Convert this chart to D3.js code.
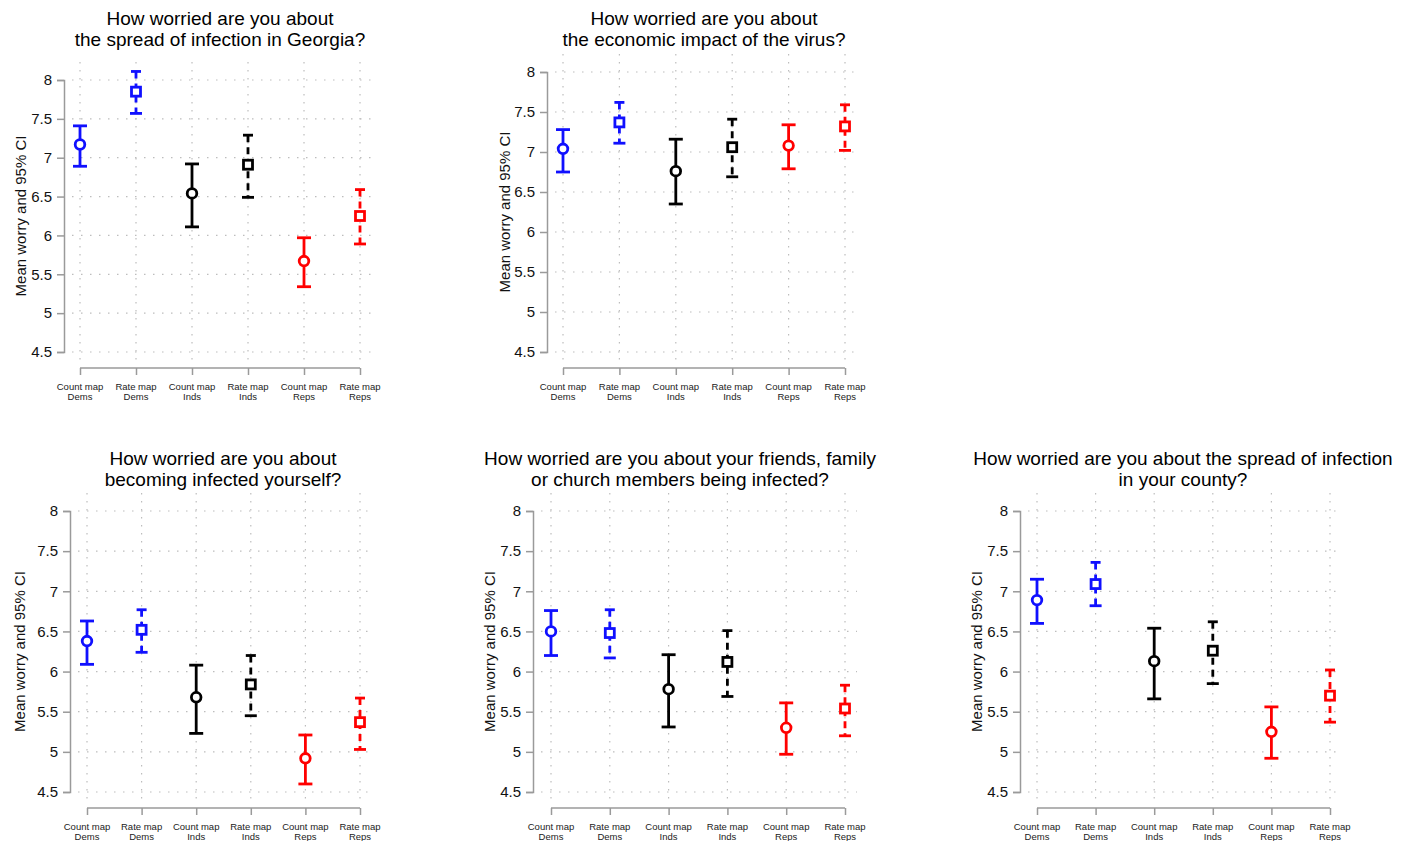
<!DOCTYPE html>
<html>
<head>
<meta charset="utf-8">
<title>Worry by map type and party</title>
<style>
  body { margin: 0; background: #fff; }
  text { font-family: "Liberation Sans", Arial, sans-serif; }
</style>
</head>
<body>
<svg id="container" width="1410" height="841"></svg>
<script src="https://cdn.jsdelivr.net/npm/d3@7"></script>
<script>
// categories (map type + party) and styling keys
const mapTypes = ["Count map", "Rate map", "Count map", "Rate map", "Count map", "Rate map"]
const parties = ["Dems", "Dems", "Inds", "Inds", "Reps", "Reps"]
const yTicks = [4.5, 5, 5.5, 6, 6.5, 7, 7.5, 8]

const titles = [
  ["How worried are you about", "the spread of infection in Georgia?"],
  ["How worried are you about", "the economic impact of the virus?"],
  ["How worried are you about", "becoming infected yourself?"],
  ["How worried are you about your friends, family", "or church members being infected?"],
  ["How worried are you about the spread of infection", "in your county?"]
]

// means and 95% CI bounds
const meanGeorgia = [7.17, 7.85, 6.54, 6.91, 5.67, 6.25]
const lowGeorgia  = [6.89, 7.57, 6.11, 6.49, 5.34, 5.89]
const highGeorgia = [7.41, 8.11, 6.92, 7.29, 5.97, 6.59]

const meanEconomy = [7.04, 7.37, 6.76, 7.06, 7.08, 7.32]
const lowEconomy  = [6.75, 7.11, 6.35, 6.69, 6.79, 7.02]
const highEconomy = [7.28, 7.62, 7.16, 7.41, 7.34, 7.59]

const meanSelf = [6.38, 6.52, 5.68, 5.84, 4.92, 5.37]
const lowSelf  = [6.09, 6.24, 5.23, 5.45, 4.60, 5.03]
const highSelf = [6.63, 6.77, 6.08, 6.20, 5.21, 5.67]

const meanFriends = [6.50, 6.48, 5.78, 6.12, 5.30, 5.54]
const lowFriends  = [6.20, 6.17, 5.31, 5.69, 4.97, 5.20]
const highFriends = [6.76, 6.77, 6.21, 6.51, 5.61, 5.83]

const meanCounty = [6.89, 7.09, 6.13, 6.26, 5.25, 5.70]
const lowCounty  = [6.60, 6.82, 5.66, 5.85, 4.92, 5.37]
const highCounty = [7.15, 7.36, 6.54, 6.62, 5.56, 6.02]

const panelData = [
  [meanGeorgia, lowGeorgia, highGeorgia],
  [meanEconomy, lowEconomy, highEconomy],
  [meanSelf, lowSelf, highSelf],
  [meanFriends, lowFriends, highFriends],
  [meanCounty, lowCounty, highCounty]
]

// where each panel sits on the page
const layout = [
  {axisX: 64,   yTop: 80,  yBottom: 352, xFirst: 80,   xLast: 360,  xAxisY: 368, titleX: 220,  titleY: 25,  labelX: 21},
  {axisX: 547,  yTop: 72,  yBottom: 352, xFirst: 563,  xLast: 845,  xAxisY: 368, titleX: 704,  titleY: 25,  labelX: 505},
  {axisX: 70,   yTop: 511, yBottom: 792, xFirst: 87,   xLast: 360,  xAxisY: 808, titleX: 223,  titleY: 465, labelX: 20},
  {axisX: 533,  yTop: 511, yBottom: 792, xFirst: 551,  xLast: 845,  xAxisY: 808, titleX: 680,  titleY: 465, labelX: 490},
  {axisX: 1020, yTop: 511, yBottom: 792, xFirst: 1037, xLast: 1330, xAxisY: 808, titleX: 1183, titleY: 465, labelX: 977}
]

const partyColor = d3.scaleOrdinal().domain(["Dems", "Inds", "Reps"]).range(["#1010ff", "#000000", "#ff0000"])
const axisColor = "#9a9a9a"
const gridColor = "#bdbdbd"

let container = d3.select("#container")

layout.forEach((L, p) => {
  const [means, lows, highs] = panelData[p]
  const rows = means.map((m, i) => ({i, mean: m, lo: lows[i], hi: highs[i], type: mapTypes[i], party: parties[i]}))

  let g = container.append("g")

  let x = d3.scalePoint()
    .domain(d3.range(mapTypes.length))
    .range([L.xFirst, L.xLast])

  let y = d3.scaleLinear()
    .domain([4.5, 8])
    .range([L.yBottom, L.yTop])

  // dotted grid
  g.selectAll(".hgrid").data(yTicks).join("line")
    .attr("x1", L.axisX + 8).attr("x2", L.xLast + 12)
    .attr("y1", d => y(d)).attr("y2", d => y(d))
    .attr("stroke", gridColor).attr("stroke-width", 1.2)
    .attr("stroke-dasharray", "1.5,7.5")

  g.selectAll(".vgrid").data(d3.range(mapTypes.length)).join("line")
    .attr("x1", d => x(d)).attr("x2", d => x(d))
    .attr("y1", L.yTop - 18).attr("y2", L.xAxisY - 8)
    .attr("stroke", gridColor).attr("stroke-width", 1.2)
    .attr("stroke-dasharray", "1.5,6.5")

  // y axis
  let yAxis = g.append("g")
    .attr("transform", `translate(${L.axisX},0)`)
    .call(d3.axisLeft(y).tickValues(yTicks).tickSizeOuter(0).tickSize(7).tickPadding(5).tickFormat(d3.format("")))
  yAxis.select(".domain").attr("stroke", axisColor).attr("stroke-width", 1.5)
  yAxis.selectAll(".tick line").attr("stroke", axisColor).attr("stroke-width", 1.5)
  yAxis.selectAll(".tick text").attr("font-size", 15).attr("fill", "#111")
    .style("font-family", "'Liberation Sans', Arial, sans-serif")

  // x axis
  let xAxis = g.append("g")
    .attr("transform", `translate(0,${L.xAxisY})`)
    .call(d3.axisBottom(x).tickSizeOuter(0).tickSize(7).tickFormat(""))
  xAxis.select(".domain").attr("stroke", axisColor).attr("stroke-width", 1.5)
    .attr("d", `M${L.xFirst},0H${L.xLast}`)
  xAxis.selectAll(".tick line").attr("stroke", axisColor).attr("stroke-width", 1.5)

  let xl = g.selectAll(".xlab").data(rows).join("text")
    .attr("x", d => x(d.i)).attr("y", L.xAxisY + 22)
    .attr("text-anchor", "middle").attr("font-size", 9.5).attr("fill", "#222")
  xl.append("tspan").attr("x", d => x(d.i)).text(d => d.type)
  xl.append("tspan").attr("x", d => x(d.i)).attr("dy", 10).text(d => d.party)

  // title
  g.append("text")
    .attr("x", L.titleX).attr("y", L.titleY)
    .attr("text-anchor", "middle").attr("font-size", 19).attr("fill", "#000")
    .selectAll("tspan").data(titles[p]).join("tspan")
    .attr("x", L.titleX).attr("dy", (d, k) => k === 0 ? 0 : 21)
    .text(d => d)

  // y label
  g.append("text")
    .attr("transform", `translate(${L.labelX},${(L.yTop + L.yBottom) / 2}) rotate(-90)`)
    .attr("dy", "0.35em")
    .attr("text-anchor", "middle").attr("font-size", 15).attr("fill", "#111")
    .text("Mean worry and 95% CI")

  // error bars
  let bars = g.selectAll(".bar").data(rows).join("g")
    .attr("stroke", d => partyColor(d.party))
    .attr("stroke-width", 2.8)
    .attr("fill", "none")

  bars.append("line")
    .attr("x1", d => x(d.i)).attr("x2", d => x(d.i))
    .attr("y1", d => y(d.hi)).attr("y2", d => y(d.lo))
    .attr("stroke-dasharray", d => d.type === "Rate map" ? "7,5" : null)

  bars.append("line")
    .attr("x1", d => x(d.i) - (d.type === "Rate map" ? 5 : 7))
    .attr("x2", d => x(d.i) + (d.type === "Rate map" ? 5 : 7))
    .attr("y1", d => y(d.hi)).attr("y2", d => y(d.hi))

  bars.append("line")
    .attr("x1", d => x(d.i) - (d.type === "Rate map" ? 6 : 7))
    .attr("x2", d => x(d.i) + (d.type === "Rate map" ? 6 : 7))
    .attr("y1", d => y(d.lo)).attr("y2", d => y(d.lo))

  // markers: circles for count maps, squares for rate maps
  bars.filter(d => d.type === "Count map").append("circle")
    .attr("cx", d => x(d.i)).attr("cy", d => y(d.mean))
    .attr("r", 4.8).attr("fill", "#fff")

  bars.filter(d => d.type === "Rate map").append("rect")
    .attr("x", d => x(d.i) - 4.5).attr("y", d => y(d.mean) - 4.5)
    .attr("width", 9).attr("height", 9).attr("fill", "#fff")
})
</script>
</body>
</html>
